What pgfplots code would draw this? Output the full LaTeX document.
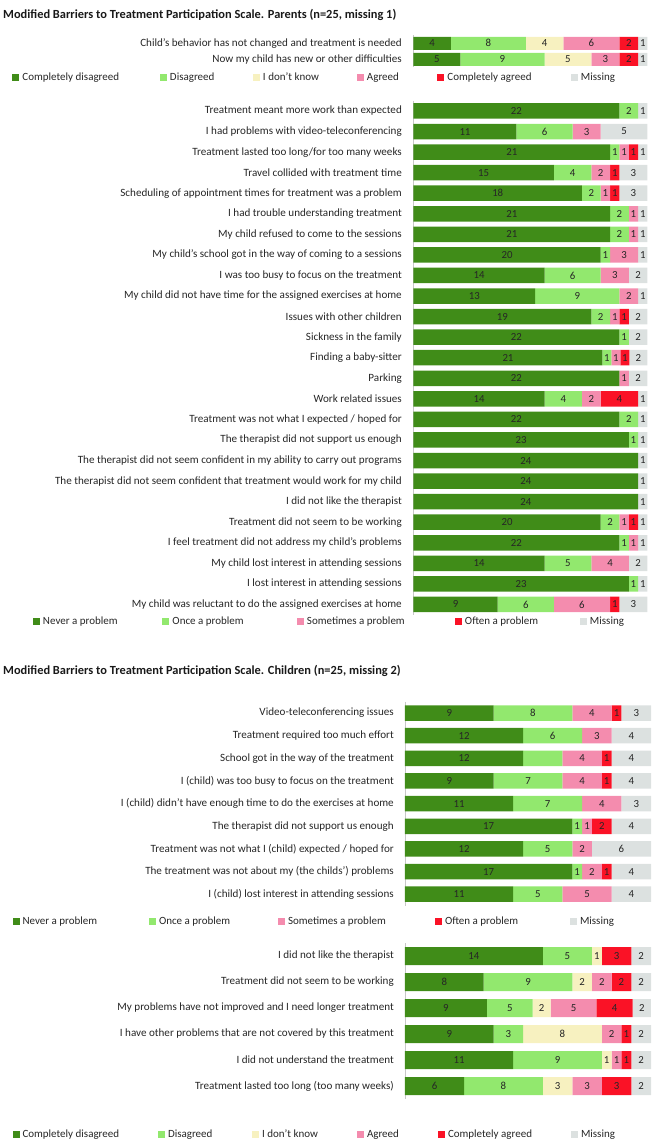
\documentclass[border=0pt]{standalone}
\usepackage{pgfplots}
\usepackage{pgfplotstable}
\pgfplotsset{compat=1.18}
\usepackage{fontspec}
\setmainfont{Carlito}

\definecolor{cA}{RGB}{64,140,24}
\definecolor{cB}{RGB}{146,232,110}
\definecolor{cC}{RGB}{247,241,192}
\definecolor{cD}{RGB}{244,140,174}
\definecolor{cE}{RGB}{250,18,38}
\definecolor{cF}{RGB}{220,225,224}

\newcommand{\lbl}{\fontsize{11.1}{13}\selectfont}
\newcommand{\val}{\fontsize{10.8}{12}\selectfont}
\newcommand{\lgd}{\fontsize{11}{13}\selectfont}
\newcommand{\lgent}[2]{\makebox[#1][l]{\hspace{3pt}#2}}

\newcommand{\seg}[3]{%
  \addplot[fill=#3, draw=none] table[x=w#2, y=y, meta=l#2]{#1};}

\pgfplotsset{
  bbar/.style={
    scale only axis, xbar stacked, xmin=0, xmax=25, enlargelimits=false,
    y dir=reverse, axis x line=none, axis y line*=left,
    y axis line style={draw=black!22, line width=0.9pt},
    major tick length=0pt, ytick style={draw=none},
    point meta=explicit,
    nodes near coords={\pgfmathfloatifflags{\pgfplotspointmeta}{0}{}{\pgfmathprintnumber{\pgfplotspointmeta}}},
    every node near coord/.style={anchor=center, font=\val, text=black!85, inner sep=0pt},
    /pgf/number format/assume math mode=true,
    clip=false,
    legend image code/.code={\fill[##1] (0pt,-3.5pt) rectangle (7pt,3.5pt);},
    legend style={draw=none, fill=none, anchor=west, legend columns=-1,
      inner sep=0pt, outer sep=0pt, font=\lgd, text=black!85, nodes={inner sep=0pt},
      /tikz/every even column/.append style={column sep=0pt},
      /tikz/every odd column/.append style={column sep=0pt}},
    legend cell align=left,
    yticklabel style={font=\lbl, text=black!85, inner sep=0pt},
  }
}

\pgfplotstableread{
y w1 w2 w3 w4 w5 w6 l1 l2 l3 l4 l5 l6
0 4 8 4 6 2 1 4 8 4 6 2 1
1 5 9 5 3 2 1 5 9 5 3 2 1
}\tA

\pgfplotstableread{
y w1 w2 w3 w4 w5 l1 l2 l3 l4 l5
0 22 2 0 0 1 22 2 0 0 1
1 11 6 3 0 5 11 6 3 0 5
2 21 1 1 1 1 21 1 1 1 1
3 15 4 2 1 3 15 4 2 1 3
4 18 2 1 1 3 18 2 1 1 3
5 21 2 1 0 1 21 2 1 0 1
6 21 2 1 0 1 21 2 1 0 1
7 20 1 3 0 1 20 1 3 0 1
8 14 6 3 0 2 14 6 3 0 2
9 13 9 2 0 1 13 9 2 0 1
10 19 2 1 1 2 19 2 1 1 2
11 22 1 0 0 2 22 1 0 0 2
12 20.19 0.96 0.96 0.96 1.92 21 1 1 1 2
13 22 0 1 0 2 22 0 1 0 2
14 14 4 2 4 1 14 4 2 4 1
15 22 2 0 0 1 22 2 0 0 1
16 23 1 0 0 1 23 1 0 0 1
17 24 0 0 0 1 24 0 0 0 1
18 24 0 0 0 1 24 0 0 0 1
19 24 0 0 0 1 24 0 0 0 1
20 20 2 1 1 1 20 2 1 1 1
21 22 1 1 0 1 22 1 1 0 1
22 14 5 4 0 2 14 5 4 0 2
23 23 1 0 0 1 23 1 0 0 1
24 9 6 6 1 3 9 6 6 1 3
}\tB

\pgfplotstableread{
y w1 w2 w3 w4 w5 l1 l2 l3 l4 l5
0 9 8 4 1 3 9 8 4 1 3
1 12 6 3 0 4 12 6 3 0 4
2 12 4 4 1 4 12 0 4 1 4
3 9 7 4 1 4 9 7 4 1 4
4 11 7 4 0 3 11 7 4 0 3
5 17 1 1 2 4 17 1 1 2 4
6 12 5 2 0 6 12 5 2 0 6
7 17 1 2 1 4 17 1 2 1 4
8 11 5 5 0 4 11 5 5 0 4
}\tC

\pgfplotstableread{
y w1 w2 w3 w4 w5 w6 l1 l2 l3 l4 l5 l6
0 14 5 1 0 3 2 14 5 1 0 3 2
1 8 9 2 2 2 2 8 9 2 2 2 2
2 8.33 4.63 1.85 4.63 3.70 1.85 9 5 2 5 4 2
3 9 3 8 2 1 2 9 3 8 2 1 2
4 11 9 1 1 1 2 11 9 1 1 1 2
5 6 8 3 3 3 2 6 8 3 3 3 2
}\tD

\begin{document}
\begin{tikzpicture}
\useasboundingbox (0,0) rectangle (651pt,-1141pt);

\node[anchor=west, inner sep=0pt, font=\bfseries\fontsize{12.4}{14}\selectfont, text=black!90] at (3pt,-15pt)
  {Modified Barriers to Treatment Participation Scale. Parents (n=25, missing 1)};
\node[anchor=west, inner sep=0pt, font=\bfseries\fontsize{12.4}{14}\selectfont, text=black!90] at (3pt,-670.7pt)
  {Modified Barriers to Treatment Participation Scale. Children (n=25, missing 2)};

% Panel 1
\begin{axis}[bbar, at={(413.5pt,-35.3pt)}, anchor=north west, width=234pt, height=32pt,
  ymin=-0.5, ymax=1.5, bar width=13pt, ytick={0,1},
  yticklabels={Child's behavior has not changed and treatment is needed, Now my child has new or other difficulties},
  yticklabel style={xshift=-11.5pt},
  legend style={at={(-1.7137,-0.325)}},
  legend entries={\lgent{140.5pt}{Completely disagreed},\lgent{86pt}{Disagreed},\lgent{97pt}{I don't know},\lgent{73.5pt}{Agreed},\lgent{126.5pt}{Completely agreed},\lgent{60pt}{Missing}}]
\seg{\tA}{1}{cA}
\seg{\tA}{2}{cB}
\seg{\tA}{3}{cC}
\seg{\tA}{4}{cD}
\seg{\tA}{5}{cE}
\seg{\tA}{6}{cF}
\end{axis}

% Panel 2
\begin{axis}[bbar, at={(413.5pt,-100.7pt)}, anchor=north west, width=234pt, height=514pt,
  ymin=-0.5, ymax=24.5, bar width=15.5pt, ytick={0,...,24},
  yticklabels={Treatment meant more work than expected, I had problems with video-teleconferencing, Treatment lasted too long/for too many weeks, Travel collided with treatment time, Scheduling of appointment times for treatment was a problem, I had trouble understanding treatment, My child refused to come to the sessions, My child’s school got in the way of coming to a sessions, I was too busy to focus on the treatment, My child did not have time for the assigned exercises at home, Issues with other children, Sickness in the family, Finding a baby-sitter, Parking, Work related issues, Treatment was not what I expected / hoped for, The therapist did not support us enough, The therapist did not seem confident in my ability to carry out programs, The therapist did not seem confident that treatment would work for my child, I did not like the therapist, Treatment did not seem to be working, I feel treatment did not address my child’s problems, My child lost interest in attending sessions, I lost interest in attending sessions, My child was reluctant to do the assigned exercises at home},
  yticklabel style={xshift=-11.5pt},
  legend style={at={(-1.6261,-0.0136)}},
  legend entries={\lgent{122.5pt}{Never a problem},\lgent{127.5pt}{Once a problem},\lgent{151pt}{Sometimes a problem},\lgent{118pt}{Often a problem},\lgent{60pt}{Missing}}]
\seg{\tB}{1}{cA}
\seg{\tB}{2}{cB}
\seg{\tB}{3}{cD}
\seg{\tB}{4}{cE}
\seg{\tB}{5}{cF}
\end{axis}

% Panel 3
\begin{axis}[bbar, at={(405pt,-701.7pt)}, anchor=north west, width=246pt, height=203.85pt,
  ymin=-0.5, ymax=8.5, bar width=15.5pt, ytick={0,...,8},
  yticklabels={Video-teleconferencing issues, Treatment required too much effort, School got in the way of the treatment, I (child) was too busy to focus on the treatment, I (child) didn't have enough time to do the exercises at home, The therapist did not support us enough, Treatment was not what I (child) expected / hoped for, The treatment was not about my (the childs') problems, I (child) lost interest in attending sessions},
  yticklabel style={xshift=-11pt},
  legend style={at={(-1.5955,-0.0758)}},
  legend entries={\lgent{129.5pt}{Never a problem},\lgent{122pt}{Once a problem},\lgent{150pt}{Sometimes a problem},\lgent{128pt}{Often a problem},\lgent{60pt}{Missing}}]
\seg{\tC}{1}{cA}
\seg{\tC}{2}{cB}
\seg{\tC}{3}{cD}
\seg{\tC}{4}{cE}
\seg{\tC}{5}{cF}
\end{axis}

% Panel 4
\begin{axis}[bbar, at={(405pt,-943pt)}, anchor=north west, width=246pt, height=156pt,
  ymin=-0.5, ymax=5.5, bar width=18pt, ytick={0,...,5},
  yticklabels={I did not like the therapist, Treatment did not seem to be working, My problems have not improved and I need longer treatment, I have other problems that are not covered by this treatment, I did not understand the treatment, Treatment lasted too long (too many weeks)},
  yticklabel style={xshift=-11pt},
  legend style={at={(-1.5955,-0.2244)}},
  legend entries={\lgent{138.5pt}{Completely disagreed},\lgent{87pt}{Disagreed},\lgent{98pt}{I don't know},\lgent{74pt}{Agreed},\lgent{126pt}{Completely agreed},\lgent{60pt}{Missing}}]
\seg{\tD}{1}{cA}
\seg{\tD}{2}{cB}
\seg{\tD}{3}{cC}
\seg{\tD}{4}{cD}
\seg{\tD}{5}{cE}
\seg{\tD}{6}{cF}
\end{axis}
\end{tikzpicture}
\end{document}
